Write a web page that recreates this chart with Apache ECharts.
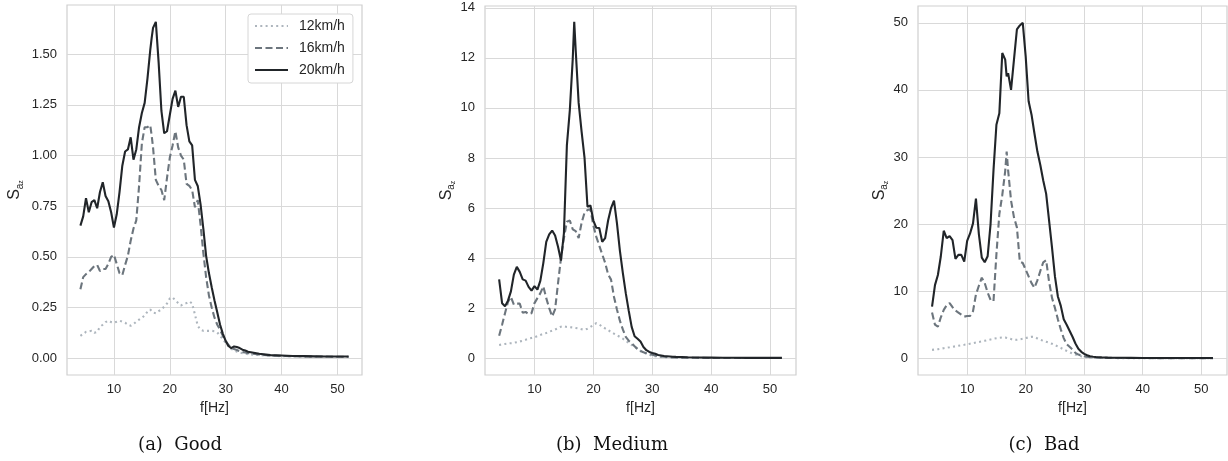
<!DOCTYPE html>
<html>
<head>
<meta charset="utf-8">
<script src="https://cdn.jsdelivr.net/npm/echarts@6/dist/echarts.min.js"></script>
<style>
  html, body { margin: 0; padding: 0; background: #fff; }
  #chart { width: 1228px; height: 461px; }
</style>
</head>
<body>
<div id="chart"></div>
<script>
// frequency grid shared by all curves [Hz]
const freq = [
  4, 4.5, 5, 5.5, 6, 6.5, 7, 7.5, 8, 8.5,
  9, 9.5, 10, 10.5, 11, 11.5, 12, 12.5, 13, 13.5,
  14, 14.5, 15, 15.5, 16, 16.5, 16.75, 17, 17.5, 18,
  18.5, 19, 19.5, 20, 20.5, 21, 21.5, 22, 22.5, 23,
  23.5, 24, 24.5, 25, 25.5, 26, 26.5, 27, 27.5, 28,
  28.5, 29, 29.5, 30, 30.5, 31, 31.5, 32, 32.5, 33,
  33.5, 34, 36, 38, 40, 42, 44, 46, 48, 50, 52
];
const speeds = ['12km/h', '16km/h', '20km/h'];

// (a) Good
const good12 = [
  0.11, 0.12, 0.13, 0.132, 0.135, 0.125, 0.13, 0.155, 0.165, 0.178,
  0.185, 0.178, 0.175, 0.18, 0.185, 0.18, 0.175, 0.165, 0.16, 0.168,
  0.18, 0.19, 0.2, 0.21, 0.23, 0.24, 0.232, 0.225, 0.222, 0.232,
  0.24, 0.255, 0.27, 0.295, 0.30, 0.285, 0.272, 0.26, 0.268, 0.272,
  0.28, 0.27, 0.215, 0.16, 0.14, 0.135, 0.135, 0.135, 0.135, 0.133,
  0.127, 0.11, 0.094, 0.075, 0.06, 0.045, 0.04, 0.032, 0.028, 0.025,
  0.022, 0.02, 0.015, 0.012, 0.01, 0.009, 0.008, 0.007, 0.007, 0.006, 0.006
];
const good16 = [
  0.34, 0.40, 0.415, 0.425, 0.44, 0.455, 0.46, 0.43, 0.44, 0.44,
  0.465, 0.50, 0.51, 0.465, 0.42, 0.41, 0.46, 0.506, 0.58, 0.64,
  0.68, 0.85, 1.06, 1.14, 1.14, 1.15, 1.10, 1.04, 0.88, 0.85,
  0.83, 0.78, 0.89, 0.99, 1.05, 1.12, 1.04, 1.0, 0.98, 0.86,
  0.85, 0.83, 0.745, 0.78, 0.66, 0.52, 0.40, 0.31, 0.25, 0.20,
  0.165, 0.14, 0.11, 0.085, 0.065, 0.052, 0.045, 0.04, 0.035, 0.03,
  0.028, 0.025, 0.018, 0.013, 0.011, 0.01, 0.009, 0.008, 0.008, 0.007, 0.007
];
const good20 = [
  0.654, 0.70, 0.79, 0.72, 0.77, 0.78, 0.74, 0.82, 0.868, 0.80,
  0.775, 0.72, 0.645, 0.71, 0.82, 0.95, 1.02, 1.03, 1.09, 0.98,
  1.03, 1.14, 1.21, 1.26, 1.38, 1.52, 1.58, 1.63, 1.66, 1.46,
  1.22, 1.11, 1.12, 1.20, 1.28, 1.32, 1.24, 1.29, 1.29, 1.15,
  1.07, 1.05, 0.88, 0.85, 0.76, 0.64, 0.505, 0.42, 0.35, 0.285,
  0.225, 0.165, 0.12, 0.085, 0.06, 0.05, 0.058, 0.055, 0.05, 0.042,
  0.038, 0.032, 0.022, 0.015, 0.013, 0.011, 0.01, 0.009, 0.008, 0.008, 0.008
];

// (b) Medium
const medium12 = [
  0.53, 0.55, 0.57, 0.59, 0.6, 0.62, 0.64, 0.67, 0.7, 0.74,
  0.78, 0.81, 0.84, 0.88, 0.93, 0.97, 1.01, 1.06, 1.1, 1.15,
  1.2, 1.26, 1.28, 1.25, 1.24, 1.23, 1.22, 1.21, 1.19, 1.16,
  1.14, 1.18, 1.25, 1.33, 1.4, 1.35, 1.26, 1.19, 1.12, 1.05,
  0.98, 0.92, 0.85, 0.78, 0.7, 0.61, 0.53, 0.45, 0.37, 0.29,
  0.23, 0.18, 0.14, 0.1, 0.08, 0.06, 0.05, 0.04, 0.035, 0.03,
  0.025, 0.02, 0.015, 0.01, 0.01, 0.01, 0.01, 0.01, 0.01, 0.01, 0.01
];
const medium16 = [
  0.9, 1.34, 1.8, 2.25, 2.45, 2.14, 2.18, 2.18, 1.82, 1.85,
  1.76, 1.8, 2.2, 2.4, 2.6, 2.87, 2.4, 2.0, 1.67, 1.95,
  3.0, 4.0, 4.8, 5.45, 5.5, 5.15, 5.1, 5.08, 4.8, 5.41,
  5.82, 5.92, 5.95, 5.3, 4.85, 4.5, 4.15, 3.81, 3.35, 3.14,
  2.45, 1.95, 1.5, 1.15, 0.85, 0.7, 0.6, 0.48, 0.37, 0.29,
  0.24, 0.2, 0.17, 0.14, 0.11, 0.09, 0.07, 0.06, 0.05, 0.04,
  0.035, 0.03, 0.02, 0.015, 0.01, 0.01, 0.01, 0.01, 0.01, 0.01, 0.01
];
const medium20 = [
  3.15, 2.2, 2.08, 2.3, 2.67, 3.34, 3.65, 3.45, 3.15, 3.1,
  2.85, 2.7, 2.88, 2.74, 3.1, 3.8, 4.65, 4.95, 5.1, 4.9,
  4.45, 3.9, 5.0, 8.5, 9.9, 11.97, 13.44, 12.3, 10.2, 9.05,
  8.0, 6.05, 6.1, 5.5, 5.21, 5.2, 4.65, 4.8, 5.5, 6.0,
  6.3, 5.4, 4.3, 3.41, 2.6, 1.9, 1.25, 0.88, 0.78, 0.67,
  0.45, 0.32, 0.25, 0.21, 0.18, 0.13, 0.11, 0.09, 0.08, 0.07,
  0.06, 0.055, 0.04, 0.03, 0.025, 0.02, 0.02, 0.015, 0.015, 0.015, 0.015
];

// (c) Bad
const bad12 = [
  1.25, 1.3, 1.35, 1.42, 1.5, 1.57, 1.63, 1.7, 1.78, 1.86,
  1.93, 2.0, 2.08, 2.17, 2.25, 2.34, 2.42, 2.5, 2.6, 2.7,
  2.8, 2.9, 2.98, 3.05, 3.1, 3.1, 3.05, 2.98, 2.85, 2.72,
  2.75, 2.82, 2.9, 3.0, 3.1, 3.2, 3.15, 2.95, 2.75, 2.6,
  2.45, 2.3, 2.15, 1.95, 1.75, 1.55, 1.3, 1.1, 0.9, 0.7,
  0.55, 0.4, 0.28, 0.2, 0.15, 0.1, 0.08, 0.06, 0.05, 0.04,
  0.035, 0.03, 0.02, 0.02, 0.015, 0.01, 0.01, 0.01, 0.01, 0.01, 0.01
];
const bad16 = [
  6.8, 5.0, 4.7, 6.1, 7.2, 7.9, 8.2, 7.6, 7.1, 6.8,
  6.5, 6.2, 6.3, 6.3, 7.0, 9.5, 10.8, 12.0, 11.2, 9.8,
  8.7, 8.5, 15.5, 21.5, 24.3, 27.9, 30.8, 28.0, 23.5, 21.0,
  19.5, 14.4, 14.2, 13.2, 12.2, 11.2, 10.5, 11.6, 13.0, 14.3,
  14.6, 11.4, 9.0, 7.5, 5.8, 4.3, 3.0, 2.1, 1.7, 1.3,
  0.8, 0.55, 0.4, 0.3, 0.22, 0.16, 0.12, 0.1, 0.08, 0.07,
  0.06, 0.05, 0.04, 0.03, 0.03, 0.02, 0.02, 0.02, 0.02, 0.02, 0.02
];
const bad20 = [
  7.7, 10.9, 12.4, 15.2, 19.0, 17.9, 18.2, 17.6, 14.8, 15.4,
  15.4, 14.4, 17.5, 18.6, 20.1, 23.8, 18.5, 15.0, 14.3, 15.2,
  20.0, 28.0, 34.8, 36.5, 45.5, 44.5, 42.0, 42.5, 40.0, 44.5,
  49.0, 49.6, 50.0, 45.0, 38.3, 36.3, 33.5, 30.8, 28.8, 26.5,
  24.5, 20.5, 16.5, 12.2, 9.2, 7.8, 5.8, 5.0, 4.1, 3.2,
  2.2, 1.4, 0.95, 0.65, 0.45, 0.3, 0.22, 0.18, 0.15, 0.12,
  0.1, 0.09, 0.06, 0.05, 0.04, 0.04, 0.03, 0.03, 0.03, 0.03, 0.03
];

// tick labels
const xTicks = [10, 20, 30, 40, 50];
const yTicksGood = [0, 0.25, 0.5, 0.75, 1.0, 1.25, 1.5];
const yTicksMedium = [0, 2, 4, 6, 8, 10, 12, 14];
const yTicksBad = [0, 10, 20, 30, 40, 50];
const captions = ['(a)  Good', '(b)  Medium', '(c)  Bad'];

const lineColors = ['#adb5bd', '#6c757d', '#212529'];
const lineTypes = [[2, 3.3], [7, 3.5], 'solid'];
const font = 'Liberation Sans';
const txt = '#262626';
const gridCol = '#d9d9d9';

const grids = [
  { left: 67, top: 5, width: 295, height: 370 },
  { left: 485, top: 6, width: 311, height: 369 },
  { left: 918, top: 6, width: 309, height: 369 }
];
const captionX = [180, 612, 1044];
const yRanges = [[-0.083, 1.743], [-0.67, 14.07], [-2.5, 52.5]];
const yTicks = [yTicksGood, yTicksMedium, yTicksBad];
const yGaps = [42, 25, 25];
const panels = [[good12, good16, good20], [medium12, medium16, medium20], [bad12, bad16, bad20]];

let chart = echarts.init(document.getElementById('chart'), null, { renderer: 'canvas' });

let xAxes = [], yAxes = [], series = [], graphics = [];
grids.forEach(function (g, i) {
  xAxes.push({
    type: 'value', gridIndex: i, min: 1.6, max: 54.4,
    name: 'f[Hz]', nameLocation: 'middle', nameGap: 24,
    nameTextStyle: { fontFamily: font, fontSize: 14, color: txt },
    axisLine: { show: false },
    axisTick: { show: false, customValues: xTicks },
    axisLabel: { customValues: xTicks, fontFamily: font, fontSize: 13, color: txt, margin: 8 },
    splitLine: { show: true, lineStyle: { color: gridCol, width: 1 } }
  });
  yAxes.push({
    type: 'value', gridIndex: i, min: yRanges[i][0], max: yRanges[i][1],
    name: '{s|S}{a|a}{z|z}', nameLocation: 'middle', nameGap: yGaps[i], nameRotate: 90,
    nameTextStyle: {
      color: txt,
      rich: {
        s: { fontFamily: font, fontSize: 16, color: txt, lineHeight: 21 },
        a: { fontFamily: font, fontSize: 10, color: txt, lineHeight: 10, verticalAlign: 'bottom' },
        z: { fontFamily: font, fontSize: 7, color: txt, lineHeight: 4, verticalAlign: 'bottom' }
      }
    },
    axisLine: { show: false },
    axisTick: { show: false, customValues: yTicks[i] },
    axisLabel: {
      customValues: yTicks[i], fontFamily: font, fontSize: 13, color: txt, margin: 10,
      formatter: i === 0 ? function (v) { return v.toFixed(2); } : '{value}'
    },
    splitLine: { show: true, lineStyle: { color: gridCol, width: 1 } }
  });
  panels[i].forEach(function (vals, k) {
    series.push({
      name: speeds[k], type: 'line', xAxisIndex: i, yAxisIndex: i,
      symbol: 'none', showSymbol: false, z: 2 + k,
      lineStyle: { color: lineColors[k], width: 2.1, type: lineTypes[k] },
      itemStyle: { color: lineColors[k] },
      data: freq.map(function (f, j) { return [f, vals[j]]; })
    });
  });
  graphics.push({
    type: 'text', x: captionX[i], y: 445,
    style: {
      text: captions[i], font: '18px "DejaVu Serif"', fill: '#111',
      textAlign: 'center', textVerticalAlign: 'middle'
    }
  });
});

let option = {
  animation: false,
  backgroundColor: '#ffffff',
  grid: grids.map(function (g) {
    return Object.assign({ show: true, borderColor: '#cfcfcf', borderWidth: 1.2, backgroundColor: 'transparent' }, g);
  }),
  xAxis: xAxes,
  yAxis: yAxes,
  legend: {
    data: speeds, orient: 'vertical', left: 248, top: 14,
    itemWidth: 33, itemHeight: 14, itemGap: 8,
    padding: [5, 8, 6, 6],
    backgroundColor: '#ffffff', borderColor: '#d6d6d6', borderWidth: 1, borderRadius: 3,
    selectedMode: false,
    itemStyle: { opacity: 0 },
    textStyle: { fontFamily: font, fontSize: 14, color: txt, padding: [0, 0, 0, 6] }
  },
  series: series,
  graphic: graphics
};
chart.setOption(option);
</script>
</body>
</html>
